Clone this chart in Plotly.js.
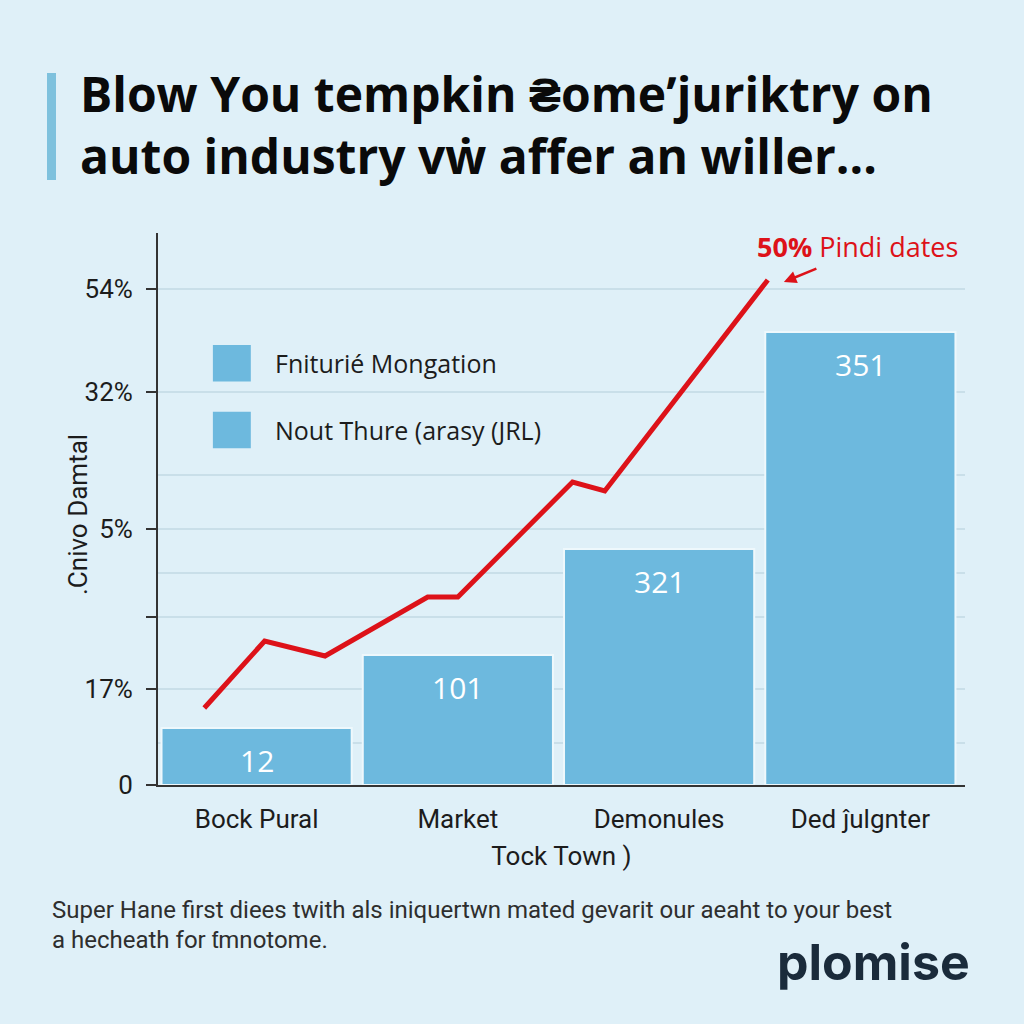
<!DOCTYPE html>
<html>
<head>
<meta charset="utf-8">
<script src="https://cdn.plot.ly/plotly-3.0.1.min.js"></script>
<style>html,body{margin:0;padding:0;background:#dff0f8;}#chart{width:1024px;height:1024px;}</style>
</head>
<body>
<div id="chart"></div>
<script>
// ---- data ----
const categories = ["Bock Pural", "Market", "Demonules", "Ded ĵulgnter"];
const barHeights = [5.7, 13.0, 23.6, 45.3];
const barLabels = ["12", "101", "321", "351"];
const lineX = [-0.26, 0.04, 0.34, 0.85, 1.0, 1.57, 1.73, 2.54];
const lineY = [7.7, 14.4, 12.9, 18.8, 18.8, 30.3, 29.4, 50.5];
const yTickVals = [49.6, 39.3, 25.6, 16.8, 9.6, 0];
const yTickText = ["54%", "32%", "5%", "", "17%", "0"];
const yMinorGrid = [31.0, 21.2, 4.2];
const seriesNames = ["Fniturié Mongation", "Nout Thure (arasy (JRL)"];
const titleLines = ["Blow You tempkin ₴omeʼjuriktry on", "auto industry vẇ affer an willer..."];
const yTitle = ".Cnivo Damtal";
const xTitle = "Tock Town )";
const calloutPct = "50%";
const calloutText = "Pindi dates";
const calloutPoint = {x: 2.62, y: 50.3};
const footnote = ["Super Hane first diees twith als iniquertwn mated gevarit our aeaht to your best", "a hecheath for ƭmnotome."];
const brand = "plomise";

const BG = "#dff0f8", BAR = "#6db9de", RED = "#dd1219", INK = "#1c1c1c";

const traces = [
  {type: "bar", x: categories.map((c, i) => i), y: barHeights, width: 0.945,
   marker: {color: BAR, line: {color: "#eef8fc", width: 2}}, hoverinfo: "none", showlegend: false},
  {type: "scatter", mode: "lines", x: lineX, y: lineY,
   line: {color: RED, width: 5, shape: "linear"}, hoverinfo: "none", showlegend: false}
];

const annotations = [];
barHeights.forEach((h, i) => annotations.push({
  x: i, y: h, xref: "x", yref: "y", text: barLabels[i], showarrow: false,
  yshift: -32, font: {family: "Open Sans, sans-serif", size: 30, color: "#ffffff"}
}));
// legend (custom)
const legendY = [0.764, 0.643];
const shapes = [];
seriesNames.forEach((n, i) => {
  shapes.push({type: "rect", xref: "paper", yref: "paper", x0: 0.068, x1: 0.115,
    y0: legendY[i] - 0.033, y1: legendY[i] + 0.033, fillcolor: BAR, line: {width: 0}});
  annotations.push({xref: "paper", yref: "paper", x: 0.142, y: legendY[i], xanchor: "left", yanchor: "middle",
    text: n, showarrow: false, font: {family: "Open Sans, sans-serif", size: 25, color: INK}});
});
// y-axis title
annotations.push({xref: "paper", yref: "paper", x: (78 - 158) / 807, y: (785 - 515) / 552, xanchor: "center", yanchor: "middle",
  text: yTitle, textangle: -90, showarrow: false, font: {family: "Roboto, sans-serif", size: 26, color: INK}});
// title accent bar
shapes.push({type: "rect", xref: "paper", yref: "paper",
  x0: (47 - 158) / 807, x1: (56 - 158) / 807, y0: (785 - 180) / 552, y1: (785 - 73) / 552,
  fillcolor: "#7ec1dd", line: {width: 0}});
// callout
annotations.push({x: calloutPoint.x, y: calloutPoint.y, xref: "x", yref: "y", text: "", showarrow: true,
  ax: 34, ay: -14, arrowhead: 2, arrowsize: 1, arrowwidth: 2.5, arrowcolor: RED});
annotations.push({xref: "paper", yref: "paper", x: (960 - 158) / 807, y: (785 - 246) / 552, xanchor: "right", yanchor: "middle",
  text: "<b>" + calloutPct + "</b> " + calloutText, showarrow: false,
  font: {family: "Open Sans, sans-serif", size: 27, color: RED}});
// footnote
footnote.forEach((t, i) => annotations.push({xref: "paper", yref: "paper", x: (50 - 158) / 807, y: (785 - (910 + i * 30)) / 552,
  xanchor: "left", yanchor: "middle", text: t, showarrow: false,
  font: {family: "Roboto, sans-serif", size: 24, color: "#2e2e2e"}}));
// brand
annotations.push({xref: "paper", yref: "paper", x: (972 - 158) / 807, y: (785 - 962) / 552, xanchor: "right", yanchor: "middle",
  text: "<b>" + brand + "</b>", showarrow: false,
  font: {family: "Inter, sans-serif", size: 50, color: "#1a2b3b"}});

const layout = {
  width: 1024, height: 1024,
  paper_bgcolor: BG, plot_bgcolor: BG,
  margin: {l: 158, r: 59, t: 233, b: 239},
  title: {text: "<b>" + titleLines.join("<br>") + "</b>", xref: "container", yref: "container",
    x: 80 / 1024, xanchor: "left", y: 1 - 112 / 1024, yanchor: "top",
    font: {family: "Open Sans, sans-serif", size: 48, color: "#0a0a0a"}},
  xaxis: {range: [-0.49, 3.52], tickvals: categories.map((c, i) => i), ticktext: categories,
    showgrid: false, zeroline: false, showline: true, linecolor: "#333", linewidth: 2, ticks: "",
    ticklabelstandoff: 10,
    tickfont: {family: "Roboto, sans-serif", size: 26, color: INK},
    title: {text: xTitle, font: {family: "Roboto, sans-serif", size: 26, color: INK}, standoff: 14}},
  yaxis: {range: [0, 55.2], tickvals: yTickVals, ticktext: yTickText, showgrid: true,
    gridcolor: "#c9dfe9", gridwidth: 1.5, zeroline: false, showline: true, linecolor: "#333", linewidth: 2,
    ticks: "outside", ticklen: 10, tickcolor: "#333", tickwidth: 2, ticklabelstandoff: 8,
    minor: {tickvals: yMinorGrid, showgrid: true, gridcolor: "#c9dfe9", gridwidth: 1.5, ticks: ""},
    tickfont: {family: "Roboto, sans-serif", size: 26, color: INK}},
  shapes: shapes, annotations: annotations, showlegend: false, bargap: 0
};

Plotly.newPlot("chart", traces, layout, {staticPlot: true});
</script>
</body>
</html>
